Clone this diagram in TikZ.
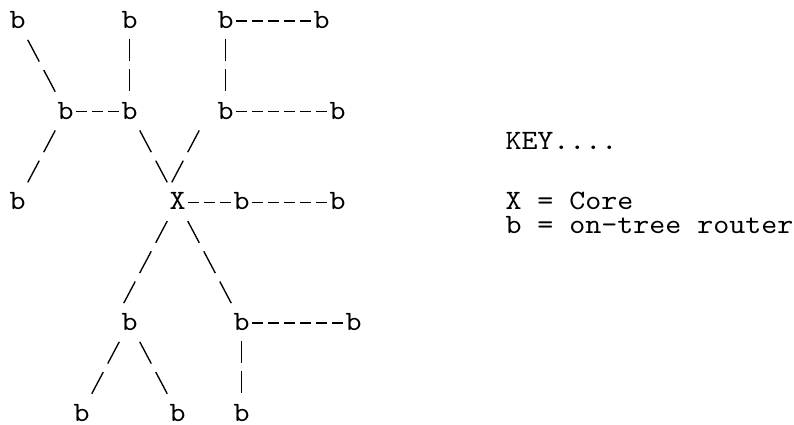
\documentclass[tikz,border=0pt]{standalone}
\usepackage{fontspec}
\newfontfamily\cour{lmmono10-regular.otf}[FakeStretch=1.088]
\tikzset{
  rt/.style={font=\cour\fontsize{28pt}{30.2pt}\selectfont, inner sep=0pt, outer sep=0pt, anchor=base},
  keytext/.style={rt, anchor=base west},
  glyph/.style={line width=1.35pt, draw=black},
  hline/.style={glyph, dash pattern=on 10.5pt off 5.5pt, shorten <=10.75pt, shorten >=10.75pt},
  vline/.style={glyph, dash pattern=on 22.5pt off 7.7pt, shorten <=10.2pt, shorten >=27.7pt},
  diag/.style={glyph, dash pattern=on 24.6pt off 9.6pt, shorten <=21.9pt, shorten >=21.9pt}
}
\begin{document}
\begin{tikzpicture}
\useasboundingbox (0,0) rectangle (794pt,424pt);
\begin{scope}[shift={(17.5pt,395.5pt)}, x=16pt, y=-30.2pt]
% row 0
\node[rt] (bA) at (0,0) {b};
\node[rt] (bB) at (7,0) {b};
\node[rt] (bC) at (13,0) {b};
\node[rt] (bD) at (19,0) {b};
% row 3
\node[rt] (bE) at (3,3) {b};
\node[rt] (bF) at (7,3) {b};
\node[rt] (bG) at (13,3) {b};
\node[rt] (bH) at (20,3) {b};
% row 6
\node[rt] (bI) at (0,6) {b};
\node[rt] (X)  at (10,6) {X};
\node[rt] (bJ) at (14,6) {b};
\node[rt] (bK) at (20,6) {b};
% row 10
\node[rt] (bL) at (7,10) {b};
\node[rt] (bM) at (14,10) {b};
\node[rt] (bN) at (21,10) {b};
% row 13
\node[rt] (bO) at (4,13) {b};
\node[rt] (bP) at (10,13) {b};
\node[rt] (bQ) at (14,13) {b};
% key
\node[keytext] (key)  at (30.5,4) {KEY....};
\node[keytext] (keyX) at (30.5,6) {X = Core};
\node[keytext] (keyb) at (30.5,6.8) {b = on-tree router};
% horizontal connectors
\draw[hline] ([yshift=7.5pt]bC.base) -- ([yshift=7.5pt]bD.base);
\draw[hline] ([yshift=7.5pt]bE.base) -- ([yshift=7.5pt]bF.base);
\draw[hline] ([yshift=7.5pt]bG.base) -- ([yshift=7.5pt]bH.base);
\draw[hline] ([yshift=7.5pt]X.base) -- ([yshift=7.5pt]bJ.base);
\draw[hline] ([yshift=7.5pt]bJ.base) -- ([yshift=7.5pt]bK.base);
\draw[hline] ([yshift=7.5pt]bM.base) -- ([yshift=7.5pt]bN.base);
% vertical connectors
\draw[vline] (bB.base) -- (bF.base);
\draw[vline] (bC.base) -- (bG.base);
\draw[vline] (bM.base) -- (bQ.base);
% diagonal connectors
\draw[diag] ([yshift=8pt]bA.base) -- ([yshift=8pt]bE.base);
\draw[diag] ([yshift=8pt]bE.base) -- ([yshift=8pt]bI.base);
\draw[diag] ([yshift=8pt]bF.base) -- ([yshift=8pt]X.base);
\draw[diag] ([xshift=-16pt,yshift=8pt]bG.base) -- ([xshift=-16pt,yshift=8pt]X.base);
\draw[diag] ([yshift=8pt]X.base) -- ([xshift=-16pt,yshift=8pt]bL.base);
\draw[diag] ([yshift=8pt]X.base) -- ([yshift=8pt]bM.base);
\draw[diag] ([yshift=8pt]bL.base) -- ([yshift=8pt]bO.base);
\draw[diag] ([yshift=8pt]bL.base) -- ([yshift=8pt]bP.base);
\end{scope}
\end{tikzpicture}
\end{document}
